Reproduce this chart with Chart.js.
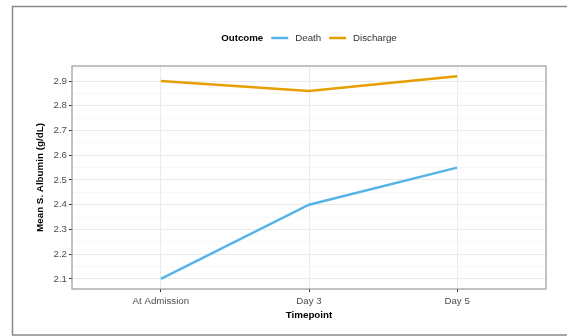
<!DOCTYPE html>
<html>
<head>
    <meta charset="utf-8">
    <script src="https://cdn.jsdelivr.net/npm/chart.js@4"></script>
    <style>
        body { margin: 0; background: #fff; }
        canvas { display: block; }
    </style>
</head>
<body>
    <canvas id="albuminChart" width="567" height="336"></canvas>

    <script>
        // data
        const timepoints = ['At Admission', 'Day 3', 'Day 5'];
        const deathAlbumin = [2.1, 2.4, 2.55];
        const dischargeAlbumin = [2.9, 2.86, 2.92];

        const yMajorTicks = [2.1, 2.2, 2.3, 2.4, 2.5, 2.6, 2.7, 2.8, 2.9];
        const yMinorTicks = [2.15, 2.25, 2.35, 2.45, 2.55, 2.65, 2.75, 2.85, 2.95];

        const FONT = 'Liberation Sans, Arial, Helvetica, sans-serif';

        function isMajor(v) {
            return yMajorTicks.some(m => Math.abs(m - v) < 1e-6);
        }

        // outer frame like the exported figure
        const framePlugin = {
            id: 'frame',
            beforeDraw(chart) {
                const ctx = chart.ctx;
                ctx.save();
                ctx.strokeStyle = '#8a8a8a';
                ctx.lineWidth = 1.5;
                ctx.beginPath();
                ctx.moveTo(567, 6.5);
                ctx.lineTo(12.5, 6.5);
                ctx.lineTo(12.5, 335);
                ctx.lineTo(567, 335);
                ctx.stroke();
                ctx.restore();
            },
            afterDatasetsDraw(chart) {
                const a = chart.chartArea;
                const ctx = chart.ctx;
                ctx.save();
                ctx.strokeStyle = '#9a9a9a';
                ctx.lineWidth = 1.2;
                ctx.strokeRect(a.left, a.top, a.right - a.left, a.bottom - a.top);
                ctx.restore();
            }
        };

        // ggplot-style inline legend: "Outcome  ── Death  ── Discharge"
        const legendPlugin = {
            id: 'inlineLegend',
            afterDraw(chart) {
                const ctx = chart.ctx;
                const a = chart.chartArea;
                const y = 38;
                ctx.save();
                ctx.textBaseline = 'middle';
                ctx.textAlign = 'left';
                ctx.font = 'bold 9.7px ' + FONT;
                const titleW = ctx.measureText('Outcome').width;
                ctx.font = '9.7px ' + FONT;
                const items = chart.data.datasets.map(ds => ({
                    label: ds.label, color: ds.borderColor, w: ctx.measureText(ds.label).width
                }));
                let total = titleW;
                items.forEach(it => { total += 8 + 17 + 7 + it.w; });
                let x = (a.left + a.right) / 2 - total / 2;

                ctx.font = 'bold 9.7px ' + FONT;
                ctx.fillStyle = '#000';
                ctx.fillText('Outcome', x, y);
                x += titleW;

                ctx.font = '9.7px ' + FONT;
                items.forEach(it => {
                    x += 8;
                    ctx.strokeStyle = it.color;
                    ctx.lineWidth = 2.5;
                    ctx.beginPath();
                    ctx.moveTo(x, y);
                    ctx.lineTo(x + 17, y);
                    ctx.stroke();
                    x += 17 + 7;
                    ctx.fillStyle = '#333';
                    ctx.fillText(it.label, x, y);
                    x += it.w;
                });
                ctx.restore();
            }
        };

        const config = {
            type: 'line',
            data: {
                datasets: [{
                    label: 'Death',
                    data: deathAlbumin.map((v, i) => ({ x: i, y: v })),
                    borderColor: '#56B4E9',
                    borderWidth: 2.5,
                    pointRadius: 0,
                    tension: 0
                }, {
                    label: 'Discharge',
                    data: dischargeAlbumin.map((v, i) => ({ x: i, y: v })),
                    borderColor: '#E69F00',
                    borderWidth: 2.5,
                    pointRadius: 0,
                    tension: 0
                }]
            },
            options: {
                responsive: false,
                animation: false,
                layout: { padding: { left: 0, right: 21, top: 66, bottom: 0 } },
                plugins: {
                    legend: { display: false },
                    tooltip: { enabled: false }
                },
                scales: {
                    x: {
                        type: 'linear',
                        min: -0.6,
                        max: 2.6,
                        afterBuildTicks: scale => {
                            scale.ticks = timepoints.map((t, i) => ({ value: i }));
                        },
                        afterFit: scale => { scale.height = 47; },
                        ticks: {
                            callback: v => timepoints[v],
                            color: '#4d4d4d',
                            font: { family: FONT, size: 9.7 },
                            padding: 4,
                            maxRotation: 0,
                            autoSkip: false
                        },
                        grid: { color: '#ebebeb', lineWidth: 1, tickLength: 3, tickColor: '#333', tickWidth: 1 },
                        border: { display: false },
                        title: {
                            display: true,
                            text: 'Timepoint',
                            color: '#000',
                            font: { family: FONT, size: 9.8, weight: 'bold' },
                            padding: { top: 0, bottom: 15 }
                        }
                    },
                    y: {
                        min: 2.059,
                        max: 2.961,
                        afterBuildTicks: scale => {
                            scale.ticks = yMajorTicks.concat(yMinorTicks)
                                .sort((p, q) => p - q)
                                .map(v => ({ value: v }));
                        },
                        afterFit: scale => { scale.width = 72; },
                        ticks: {
                            callback: v => isMajor(v) ? v.toFixed(1) : '',
                            color: '#4d4d4d',
                            font: { family: FONT, size: 9.7 },
                            padding: 2,
                            autoSkip: false
                        },
                        grid: {
                            color: c => isMajor(c.tick.value) ? '#ebebeb' : '#f4f4f4',
                            lineWidth: c => isMajor(c.tick.value) ? 1 : 0.7,
                            tickLength: 3,
                            tickColor: c => isMajor(c.tick.value) ? '#333' : 'rgba(0,0,0,0)',
                            tickWidth: 1
                        },
                        border: { display: false },
                        title: {
                            display: true,
                            text: 'Mean S. Albumin (g/dL)',
                            color: '#000',
                            font: { family: FONT, size: 9.8, weight: 'bold' },
                            padding: { top: 34, bottom: 0 }
                        }
                    }
                }
            },
            plugins: [framePlugin, legendPlugin]
        };

        const albuminChart = new Chart(document.getElementById('albuminChart'), config);
    </script>
</body>
</html>
